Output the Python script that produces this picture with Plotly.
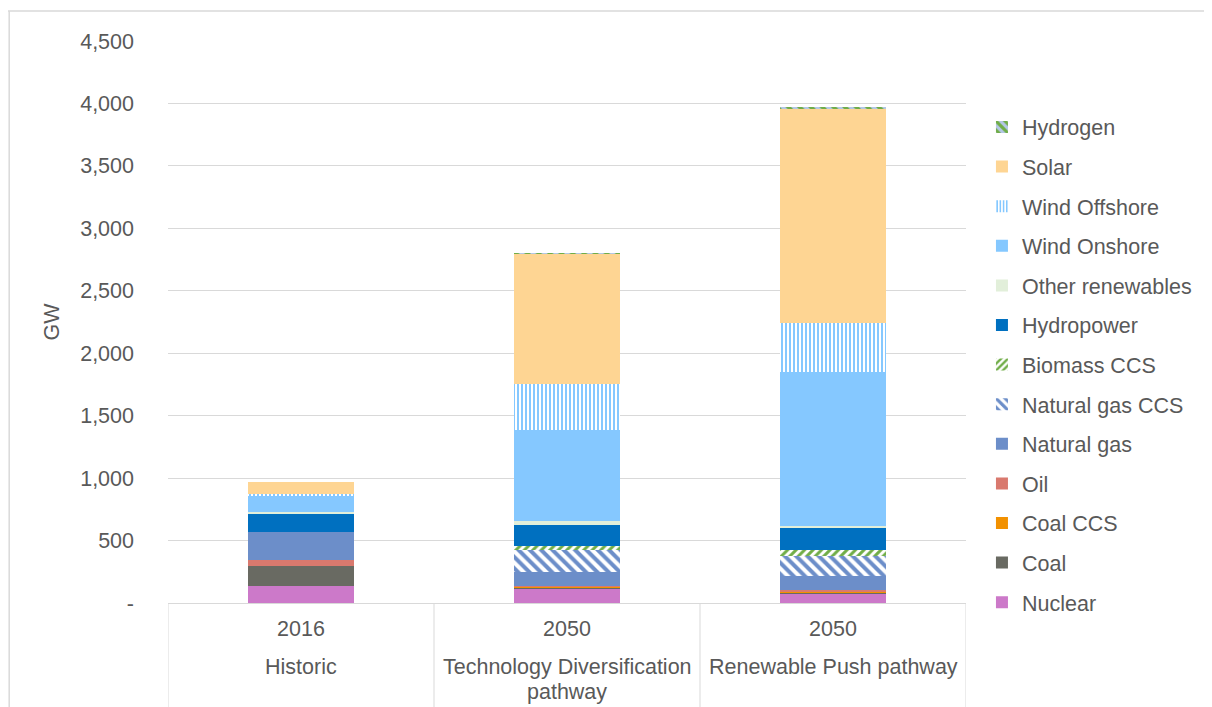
import plotly.graph_objects as go

# ---------------- data ----------------
scenarios = ["Historic", "Technology Diversification<br>pathway", "Renewable Push pathway"]
years = ["2016", "2050", "2050"]

nuclear = [135, 118, 80]
coal = [163, 10, 8]
coal_ccs = [0, 3, 3]
oil = [43, 8, 10]
natural_gas = [227, 109, 115]
natural_gas_ccs = [0, 174, 160]
biomass_ccs = [0, 37, 51]
hydropower = [142, 168, 174]
other_renewables = [16, 29, 19]
wind_onshore = [138, 726, 1227]
wind_offshore = [12, 374, 395]
solar = [95, 1041, 1716]
hydrogen = [0, 5, 8]

y_ticks = [0, 500, 1000, 1500, 2000, 2500, 3000, 3500, 4000, 4500]
y_ticktext = ["-", "500", "1,000", "1,500", "2,000", "2,500", "3,000", "3,500", "4,000", "4,500"]

# ---------------- style ----------------
FONT = "Liberation Sans, Arial, sans-serif"
FS = 21.5
TXT = "#595959"
GRID = "#D9D9D9"

series = [
    ("Nuclear", nuclear, "#CC79C9", None, None),
    ("Coal", coal, "#696A62", None, None),
    ("Coal CCS", coal_ccs, "#F29100", None, None),
    ("Oil", oil, "#D9796E", None, None),
    ("Natural gas", natural_gas, "#6C8EC9", None, None),
    ("Natural gas CCS", natural_gas_ccs, "#6C8EC9", "\\", "white"),
    ("Biomass CCS", biomass_ccs, "#70AD47", "/", "white"),
    ("Hydropower", hydropower, "#0070C0", None, None),
    ("Other renewables", other_renewables, "#E2EFDA", None, None),
    ("Wind Onshore", wind_onshore, "#85C8FF", None, None),
    ("Wind Offshore", wind_offshore, "#85C8FF", "|", "white"),
    ("Solar", solar, "#FED593", None, None),
    ("Hydrogen", hydrogen, "#70AD47", "\\", "#B4C7E7"),
]

pattern_sizes = {"|": 4, "\\": 8, "/": 6}

fig = go.Figure()
n = len(series)
for i, (name, vals, color, shape, bg) in enumerate(series):
    marker = dict(color=color, line=dict(width=0))
    if shape:
        marker["pattern"] = dict(shape=shape, fgcolor=color, bgcolor=bg,
                                 size=pattern_sizes[shape], solidity=0.5,
                                 fillmode="replace")
    fig.add_trace(go.Bar(
        name=name,
        x=scenarios,
        y=vals,
        marker=marker,
        legendgroup=name,
        legendrank=n - i,
    ))

# outer category labels (scenario names) below the year labels,
# one annotation per text line so the line spacing matches the original
LINE_Y = [-0.1139, -0.1584]
annotations = []
for s in scenarios:
    for k, line in enumerate(s.split("<br>")):
        annotations.append(dict(
            text=line, x=s, xref="x", y=LINE_Y[k], yref="paper",
            xanchor="center", yanchor="middle", showarrow=False,
            font=dict(family=FONT, size=FS, color=TXT)))

# category dividers
shapes = [
    dict(type="line", xref="x", yref="paper", x0=p, x1=p, y0=0, y1=-0.25,
         line=dict(color=GRID, width=1))
    for p in [-0.5, 0.5, 1.5, 2.5]
]
# chart border (top and left)
shapes += [
    dict(type="line", xref="paper", yref="paper",
         x0=-0.2005, x1=1.31, y0=1.0534, y1=1.0534,
         line=dict(color=GRID, width=1.5)),
    dict(type="line", xref="paper", yref="paper",
         x0=-0.199, x1=-0.199, y0=1.0534, y1=-0.25,
         line=dict(color=GRID, width=1.5)),
]

fig.update_layout(
    barmode="stack",
    bargap=0.6,
    width=1204,
    height=699,
    margin=dict(l=160, r=246, t=33, b=104),
    paper_bgcolor="white",
    plot_bgcolor="white",
    font=dict(family=FONT, size=FS, color=TXT),
    showlegend=True,
    legend=dict(
        traceorder="grouped",
        tracegroupgap=8.65,
        x=1.02, xanchor="left",
        y=0.8834, yanchor="top",
        font=dict(family=FONT, size=FS, color=TXT),
        bgcolor="rgba(0,0,0,0)",
    ),
    xaxis=dict(
        type="category",
        tickvals=scenarios,
        ticktext=years,
        range=[-0.5, 2.5],
        showline=True,
        linecolor=GRID,
        linewidth=1,
        tickfont=dict(family=FONT, size=FS, color=TXT),
        ticks="",
        ticklabelstandoff=6,
        showgrid=False,
    ),
    yaxis=dict(
        range=[0, 4500],
        tickvals=y_ticks,
        ticktext=y_ticktext,
        showgrid=True,
        gridcolor=GRID,
        gridwidth=1,
        zeroline=False,
        showline=False,
        ticks="",
        ticklabelstandoff=33,
        tickfont=dict(family=FONT, size=FS, color=TXT),
        title=dict(text="GW", font=dict(family=FONT, size=FS, color=TXT), standoff=14),
    ),
    annotations=annotations,
    shapes=shapes,
)

fig.write_html("out.html")
